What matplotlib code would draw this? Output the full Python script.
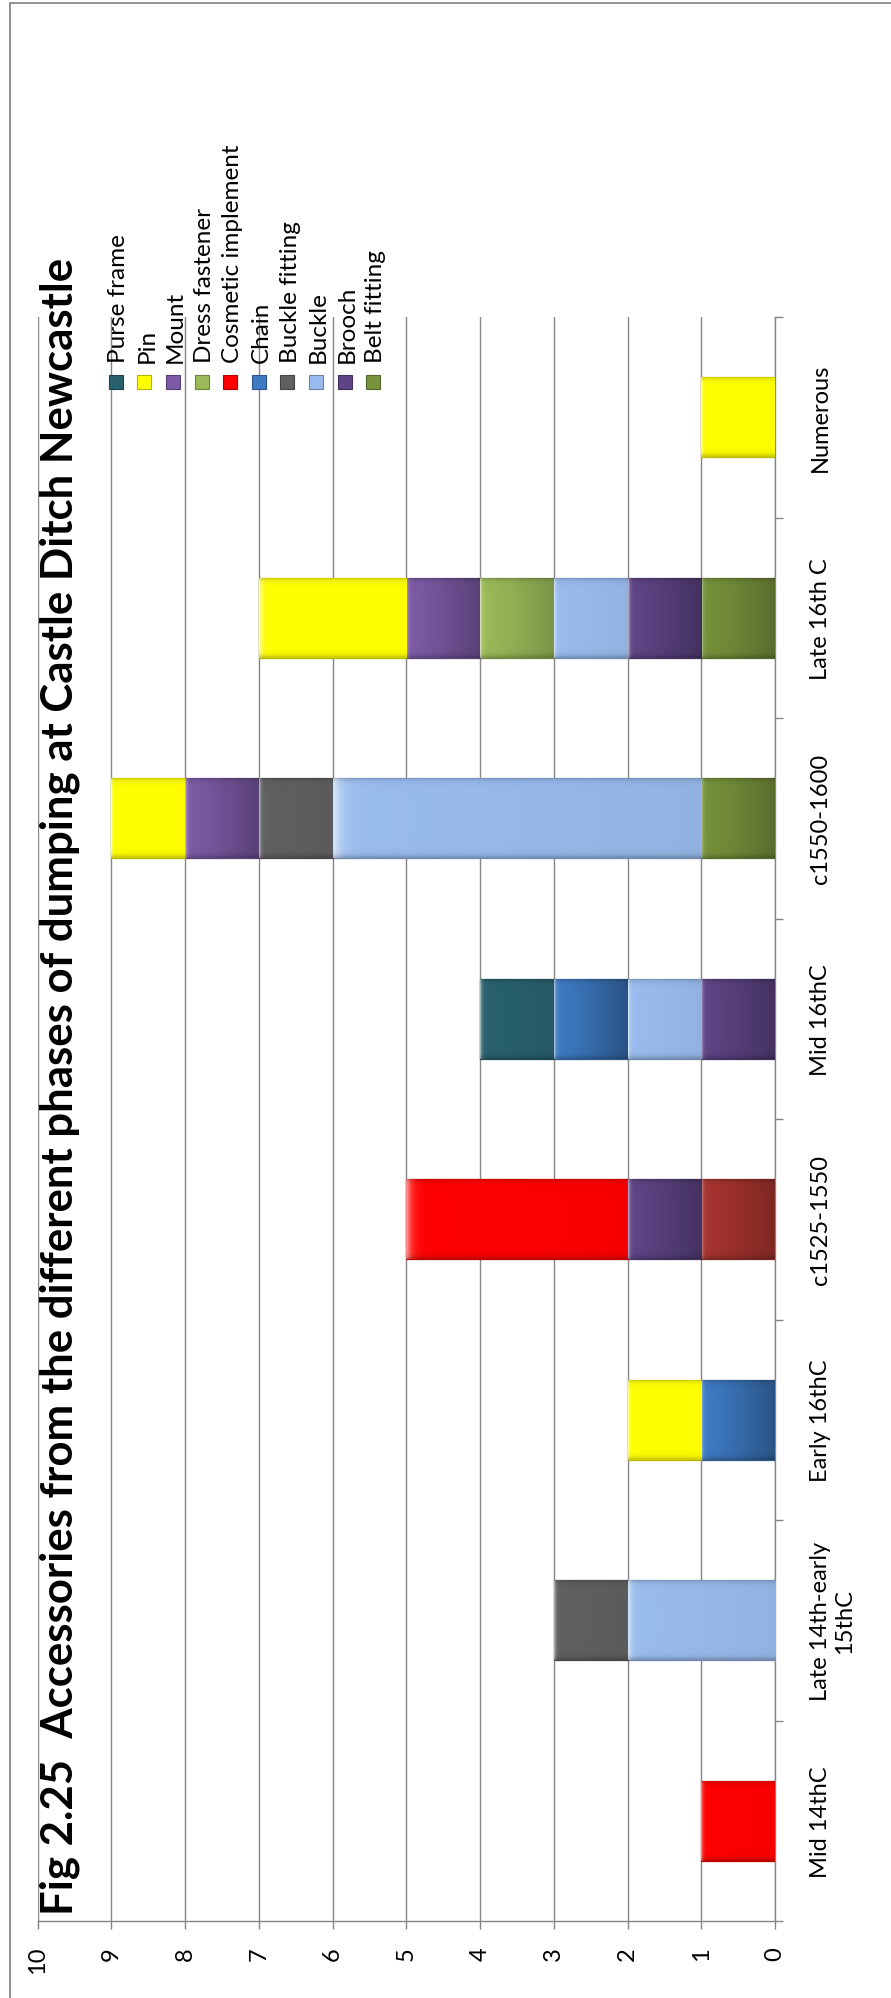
import numpy as np
import matplotlib
matplotlib.use("Agg")
import matplotlib.pyplot as plt
from matplotlib.patches import Rectangle
from matplotlib.colors import to_rgb

plt.rcParams['font.family'] = ['Lato', 'DejaVu Sans']

# ---- data -------------------------------------------------------------
periods = ["Mid 14thC", "Late 14th-early\n15thC", "Early 16thC", "c1525-1550",
           "Mid 16thC", "c1550-1600", "Late 16th C", "Numerous"]

# stacking order: first series sits at the base of every column
belt_fitting       = [0, 0, 0, 1, 0, 1, 1, 0]
brooch             = [0, 0, 0, 1, 1, 0, 1, 0]
buckle             = [0, 2, 0, 0, 1, 5, 1, 0]
buckle_fitting     = [0, 1, 0, 0, 0, 1, 0, 0]
chain              = [0, 0, 1, 0, 1, 0, 0, 0]
cosmetic_implement = [1, 0, 0, 3, 0, 0, 0, 0]
dress_fastener     = [0, 0, 0, 0, 0, 0, 1, 0]
mount              = [0, 0, 0, 0, 0, 1, 1, 0]
pin                = [0, 0, 1, 0, 0, 1, 2, 1]
purse_frame        = [0, 0, 0, 0, 1, 0, 0, 0]

series_names = ["Belt fitting", "Brooch", "Buckle", "Buckle fitting", "Chain",
                "Cosmetic implement", "Dress fastener", "Mount", "Pin", "Purse frame"]
series_values = [belt_fitting, brooch, buckle, buckle_fitting, chain,
                 cosmetic_implement, dress_fastener, mount, pin, purse_frame]
series_colors = ["#77933C", "#5F4586", "#99BCEE", "#606060", "#3E7BC4",
                 "#FF0000", "#9BBB59", "#7D5BA6", "#FFFF00", "#29616F"]
# single data point drawn in its own colour
point_colors = {("Belt fitting", 3): "#A8342F"}

value_ticks = list(range(0, 11))
title = "Fig 2.25  Accessories from the different phases of dumping at Castle Ditch Newcastle"

# ---- styling ----------------------------------------------------------
# how strongly each fill darkens towards the base of its segment
shade_strength = {"Belt fitting": 0.25, "Brooch": 0.28, "Buckle": 0.05,
                  "Buckle fitting": 0.05, "Chain": 0.32, "Cosmetic implement": 0.03,
                  "Dress fastener": 0.2, "Mount": 0.28, "Pin": 0.0,
                  "Purse frame": 0.08}

W, H = 891, 1999
def fx(px):
    return px / W
def fy(py):
    return 1 - py / H

GRID = "#868686"
FS = 17

fig = plt.figure(figsize=(W / 100, H / 100), dpi=100)
fig.patch.set_facecolor("white")

# outer frame
fig.add_artist(Rectangle((fx(10), fy(2010)), fx(900) - fx(10), fy(4) - fy(2010),
                         transform=fig.transFigure, fill=False,
                         edgecolor="#898989", lw=1.3))

ax = fig.add_axes([fx(37.7), fy(1922), fx(775) - fx(37.7), fy(318) - fy(1922)])
ax.set_facecolor("none")


def shaded_segment(ax, start, length, yc, height, color, strength):
    """Draw one stacked segment with a soft bevel-like shading."""
    rgb = np.array(to_rgb(color))
    edge = tuple(rgb * 0.72)
    rect = ax.barh(yc, length, left=start, height=height, color=color,
                   edgecolor=edge, linewidth=0.9, zorder=3)[0]
    nx, ny = 80, 40
    u = np.linspace(0, 1, nx)[None, :, None]
    v = np.linspace(0, 1, ny)[:, None, None]
    img = rgb[None, None, :] * (1 - strength * u ** 1.3)
    hl = 0.55 * np.exp(-u / 0.02)
    img = img * (1 - hl) + hl
    ed = 0.2 * (np.exp(-v / 0.03) + np.exp(-(1 - v) / 0.03))
    img = img * (1 - ed)
    img = np.clip(img, 0, 1)
    im = ax.imshow(img, extent=(start + length, start, yc - height / 2, yc + height / 2),
                   aspect="auto", interpolation="bilinear", zorder=3.5)
    im.set_clip_path(rect)


y = np.arange(len(periods))
base = np.zeros(len(periods))
for name, vals, col in zip(series_names, series_values, series_colors):
    vals = np.asarray(vals, dtype=float)
    for i, v in enumerate(vals):
        if v > 0:
            c = point_colors.get((name, i), col)
            s = 0.25 if (name, i) in point_colors else shade_strength[name]
            shaded_segment(ax, base[i], v, y[i], 0.4, c, s)
    base += vals

ax.set_xlim(10, 0)
ax.set_ylim(-0.5, len(periods) - 0.5)

# value axis (bottom)
ax.set_xticks(value_ticks)
ax.set_xticklabels([str(t) for t in value_ticks])
ax.grid(axis="x", color=GRID, lw=1.0, zorder=0)
ax.set_axisbelow(True)
ax.tick_params(axis="x", direction="out", length=5.4, width=1.0, color=GRID,
               pad=12.6, labelsize=FS)
for lab in ax.get_xticklabels():
    lab.set_rotation(90)
    lab.set_ha("center")
    lab.set_va("top")

# category axis (right side, at value 0)
ax.yaxis.tick_right()
ax.set_yticks(y)
ax.set_yticklabels(periods)
ax.set_yticks(np.arange(-0.5, len(periods), 1.0), minor=True)
ax.tick_params(axis="y", which="major", length=0, pad=25, labelsize=FS)
ax.tick_params(axis="y", which="minor", direction="out", length=5.4, width=1.0,
               color=GRID)
for lab in ax.get_yticklabels():
    lab.set_rotation(90)
    lab.set_ha("left")
    lab.set_va("center")
    lab.set_multialignment("center")

for side in ("left", "top"):
    ax.spines[side].set_visible(False)
for side in ("bottom", "right"):
    ax.spines[side].set_color(GRID)
    ax.spines[side].set_linewidth(1.0)

# title
fig.text(fx(72), fy(1915), title, rotation=90, rotation_mode="anchor",
         ha="left", va="baseline", fontsize=31.5, fontweight="bold", color="black")

# legend, listed from the top of the stack down
leg_x0, leg_dx, leg_y = 115.7, 28.6, 383
for k, (name, col) in enumerate(zip(series_names[::-1], series_colors[::-1])):
    cx = leg_x0 + k * leg_dx
    rgb = np.array(to_rgb(col))
    fig.add_artist(Rectangle((fx(cx - 7), fy(leg_y + 7)), 14 / W, 14 / H,
                             transform=fig.transFigure, facecolor=col,
                             edgecolor=tuple(rgb * 0.7), lw=0.8))
    fig.text(fx(cx + 9.3), fy(363), name, rotation=90, rotation_mode="anchor",
             ha="left", va="baseline", fontsize=17.5, color="black")

fig.savefig("out.png", dpi=100, facecolor="white")
